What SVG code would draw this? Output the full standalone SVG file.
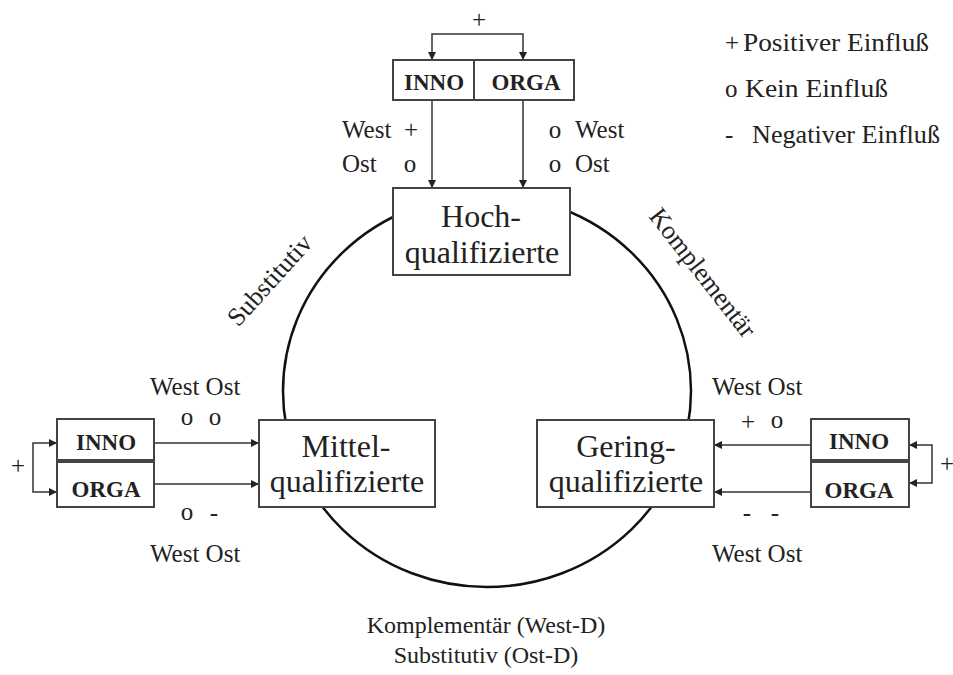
<svg xmlns="http://www.w3.org/2000/svg" width="953" height="675" viewBox="0 0 953 675">
<defs>
<marker id="ah" viewBox="0 0 10 10" refX="10" refY="5" markerWidth="9" markerHeight="8" markerUnits="userSpaceOnUse" orient="auto">
<path d="M0,0 L10,5 L0,10 z" fill="#222"/>
</marker>
</defs>
<style>
text{font-family:"Liberation Serif","Times New Roman",serif;fill:#222}
.box{fill:#fff;stroke:#444;stroke-width:2}
.big{font-size:32px;text-anchor:middle}
.bold{font-size:23px;font-weight:bold;text-anchor:middle}
.lbl{font-size:25px}
.c{text-anchor:middle}
.leg{font-size:25px}
.rel{font-size:24px;text-anchor:middle}
.rot{font-size:26px;text-anchor:middle}
.con2{fill:none;stroke:#333;stroke-width:1.5;marker-end:url(#ah)}
</style>
<rect width="953" height="675" fill="#fff"/>

<ellipse id="circle" cx="487" cy="391" rx="204" ry="196" fill="none" stroke="#111" stroke-width="2.5"/>

<g id="connectors">
<path class="con2" d="M478,34 H432 V60"/>
<path class="con2" d="M478,34 H523 V60"/>
<path class="con2" d="M432,100 V188"/>
<path class="con2" d="M523,100 V188"/>
<path class="con2" d="M33,467 V443 H57"/>
<path class="con2" d="M33,467 V492 H57"/>
<path class="con2" d="M154,443 H259"/>
<path class="con2" d="M154,484 H259"/>
<path class="con2" d="M932,464 V445 H909"/>
<path class="con2" d="M932,464 V483 H909"/>
<path class="con2" d="M811,445 H714"/>
<path class="con2" d="M811,492 H714"/>
</g>

<g id="top-factors">
<rect class="box" x="393" y="60" width="181" height="40"/>
<line x1="474" y1="60" x2="474" y2="100" stroke="#444" stroke-width="2"/>
<text class="bold" x="434" y="90">INNO</text>
<text class="bold" x="526" y="90">ORGA</text>
</g>

<g id="hoch">
<rect class="box" x="393" y="188" width="177" height="87"/>
<text class="big" x="481" y="227">Hoch-</text>
<text class="big" x="482" y="263">qualifizierte</text>
</g>

<g id="mittel">
<rect class="box" x="259" y="420" width="176" height="87"/>
<text class="big" x="346" y="457">Mittel-</text>
<text class="big" x="347" y="492">qualifizierte</text>
</g>

<g id="gering">
<rect class="box" x="537" y="420" width="177" height="87"/>
<text class="big" x="626" y="457">Gering-</text>
<text class="big" x="626" y="492">qualifizierte</text>
</g>

<g id="left-factors">
<rect class="box" x="57" y="419" width="97" height="41"/>
<rect class="box" x="57" y="462" width="97" height="45"/>
<text class="bold" x="106" y="450">INNO</text>
<text class="bold" x="106" y="497">ORGA</text>
</g>

<g id="right-factors">
<rect class="box" x="811" y="419" width="98" height="41"/>
<rect class="box" x="811" y="462" width="98" height="45"/>
<text class="bold" x="859" y="449">INNO</text>
<text class="bold" x="859" y="498">ORGA</text>
</g>

<g id="labels">
<text class="lbl c" x="479" y="28">+</text>
<text class="lbl" x="342" y="138">West</text>
<text class="lbl c" x="411" y="138">+</text>
<text class="lbl" x="342" y="172">Ost</text>
<text class="lbl c" x="410" y="172">o</text>
<text class="lbl c" x="555" y="138">o</text>
<text class="lbl" x="575" y="138">West</text>
<text class="lbl c" x="555" y="172">o</text>
<text class="lbl" x="575" y="172">Ost</text>

<text class="lbl" x="150" y="395">West Ost</text>
<text class="lbl c" x="187" y="425">o</text>
<text class="lbl c" x="215" y="425">o</text>
<text class="lbl c" x="187" y="520">o</text>
<text class="lbl c" x="214" y="521">-</text>
<text class="lbl" x="150" y="562">West Ost</text>
<text class="lbl c" x="18" y="474">+</text>

<text class="lbl" x="712" y="395">West Ost</text>
<text class="lbl c" x="748" y="430">+</text>
<text class="lbl c" x="777" y="428">o</text>
<text class="lbl c" x="747" y="521">-</text>
<text class="lbl c" x="775" y="521">-</text>
<text class="lbl" x="712" y="562">West Ost</text>
<text class="lbl c" x="947" y="472">+</text>

<text class="rot" transform="translate(276,286) rotate(-48)">Substitutiv</text>
<text class="rot" transform="translate(696,278) rotate(52)">Komplementär</text>
<text class="rel" x="486" y="633">Komplementär (West-D)</text>
<text class="rel" x="486" y="663">Substitutiv (Ost-D)</text>
</g>

<g id="legend">
<text class="leg" x="725" y="51">+</text>
<text class="leg" x="743" y="51" textLength="186" lengthAdjust="spacingAndGlyphs">Positiver Einfluß</text>
<text class="leg" x="725" y="97">o</text>
<text class="leg" x="745" y="97" textLength="143" lengthAdjust="spacingAndGlyphs">Kein Einfluß</text>
<text class="leg" x="725" y="143">-</text>
<text class="leg" x="752" y="143" textLength="188" lengthAdjust="spacingAndGlyphs">Negativer Einfluß</text>
</g>
</svg>
